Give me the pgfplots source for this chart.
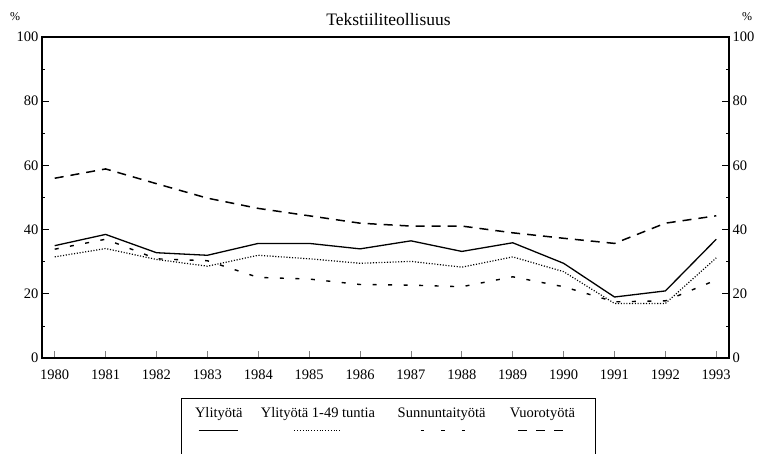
\documentclass[border=0pt]{standalone}
\usepackage{fontspec}
\setmainfont{Liberation Serif}
\usepackage{pgfplots}
\pgfplotsset{compat=1.18}
\newcommand{\tickfont}{\fontsize{14.5}{16}\selectfont}
\newcommand{\legfont}{\fontsize{14.5}{17}\selectfont}
\begin{document}
\begin{tikzpicture}
\useasboundingbox (-42pt,-95pt) rectangle (718pt,358pt);
\begin{axis}[
  at={(0pt,0pt)}, anchor=south west,
  scale only axis, width=687pt, height=321pt,
  xmin=1979.75, xmax=1993.25, ymin=0, ymax=100,
  xtick={1980,...,1993}, ytick={0,20,...,100}, minor ytick={10,30,...,90},
  xtick pos=bottom, ytick pos=left, tick align=inside,
  major tick length=7pt, minor tick length=3pt,
  x tick style={gray, line width=0.6pt},
  y tick style={black, line width=0.8pt},
  axis line style={line width=1.3pt},
  ticklabel style={font=\tickfont},
  xticklabel style={yshift=-8pt},
  /pgf/number format/assume math mode=true,
  /pgf/number format/1000 sep={},
  legend columns=4,
  legend style={at={(axis description cs:0.2023,-0.1246)}, anchor=north west,
    draw=black, line width=1pt, fill=white, inner xsep=4.5pt, inner ysep=5pt,
    nodes={inner sep=0pt}, cells={anchor=base west},
    /tikz/every odd column/.style={column sep=0pt},
    /tikz/every even column/.style={column sep=0pt},
    font=\legfont},
]
\addplot[black, line width=1.3pt,
  legend image code/.code={\path (0pt,13pt) (0pt,-50pt); \draw[black, line width=1.3pt, overlay] (12pt,-13pt) -- (51pt,-13pt);}]
  coordinates {(1980,35.0)(1981,38.5)(1982,32.8)(1983,32.0)(1984,35.7)(1985,35.7)(1986,34.0)(1987,36.5)(1988,33.2)(1989,35.9)(1990,29.5)(1991,19.0)(1992,20.9)(1993,37.0)};
\addlegendentry{\makebox[63pt][c]{Ylityötä}}
\addplot[black, line width=1.2pt, dash pattern=on 1.1pt off 1.7pt,
  legend image code/.code={\path (0pt,13pt) (0pt,-50pt); \draw[black, line width=1.2pt, dash pattern=on 1.1pt off 1.7pt, overlay] (43.5pt,-13pt) -- (89.5pt,-13pt);}]
  coordinates {(1980,31.5)(1981,34.1)(1982,30.7)(1983,28.6)(1984,32.0)(1985,30.9)(1986,29.5)(1987,30.1)(1988,28.3)(1989,31.5)(1990,26.9)(1991,17.0)(1992,17.0)(1993,31.2)};
\addlegendentry{\makebox[133pt][c]{Ylityötä 1-49 tuntia}}
\addplot[black, line width=1.4pt, dash pattern=on 4pt off 11.5pt,
  legend image code/.code={\path (0pt,13pt) (0pt,-50pt); \draw[black, line width=1.4pt, dash pattern=on 3.5pt off 17pt, overlay] (35.5pt,-13pt) -- (81.5pt,-13pt);}]
  coordinates {(1980,33.9)(1981,37.0)(1982,30.9)(1983,30.3)(1984,25.1)(1985,24.6)(1986,22.9)(1987,22.7)(1988,22.2)(1989,25.3)(1990,22.2)(1991,17.5)(1992,17.8)(1993,24.3)};
\addlegendentry{\makebox[111.5pt][c]{Sunnuntaityötä}}
\addplot[black, line width=1.5pt, dash pattern=on 9pt off 7pt,
  legend image code/.code={\path (0pt,13pt) (0pt,-50pt); \draw[black, line width=1.5pt, dash pattern=on 9pt off 9pt, overlay] (20pt,-13pt) -- (67pt,-13pt);}]
  coordinates {(1980,56.0)(1981,58.9)(1982,54.3)(1983,49.8)(1984,46.6)(1985,44.3)(1986,42.0)(1987,41.1)(1988,41.1)(1989,39.0)(1990,37.3)(1991,35.7)(1992,42.0)(1993,44.3)};
\addlegendentry{\makebox[92pt][l]{\makebox[87pt][c]{Vuorotyötä}}}
\end{axis}
\begin{axis}[
  at={(0pt,0pt)}, anchor=south west,
  scale only axis, width=687pt, height=321pt,
  xmin=1979.75, xmax=1993.25, ymin=0, ymax=100,
  hide x axis,
  ytick={0,20,...,100}, minor ytick={10,30,...,90},
  ytick pos=right, yticklabel pos=right, tick align=inside,
  major tick length=7pt, minor tick length=3pt,
  y tick style={black, line width=0.8pt},
  axis line style={line width=1.3pt},
  ticklabel style={font=\tickfont},
  /pgf/number format/assume math mode=true,
]
\end{axis}
\node[anchor=base, font=\fontsize{17.5}{20}\selectfont] at (346.5pt,332pt) {Tekstiiliteollisuus};
\node[font=\fontsize{12}{14}\selectfont] at (-27pt,341pt) {\%};
\node[font=\fontsize{12}{14}\selectfont] at (705pt,341pt) {\%};
\end{tikzpicture}
\end{document}
